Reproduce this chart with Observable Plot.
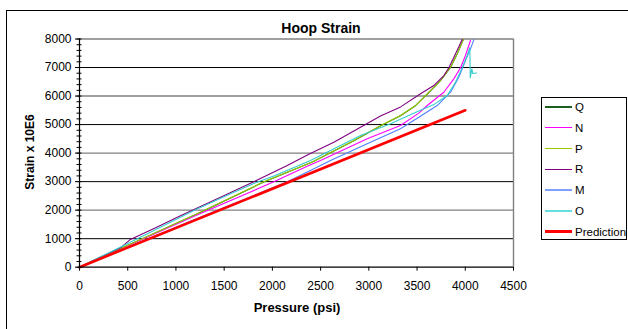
<!DOCTYPE html>
<html>
<head>
<meta charset="utf-8">
<script src="https://cdn.jsdelivr.net/npm/d3@7"></script>
<script src="https://cdn.jsdelivr.net/npm/@observablehq/plot@0.6"></script>
<style>
  html, body { margin: 0; padding: 0; background: #fff; }
  body { width: 628px; height: 329px; overflow: hidden; position: relative; font-family: "Liberation Sans", Arial, sans-serif; }
  #frame { position: absolute; left: 6px; top: 10px; width: 700px; height: 400px; border: 1px solid #000; }
  #chart { position: absolute; left: 0; top: 0; }
  .lbl { position: absolute; font-weight: bold; color: #000; white-space: nowrap; }
  #title { left: 321px; top: 21px; font-size: 14px; line-height: 14px; transform: translateX(-50%); }
  #xlab { left: 297px; top: 301px; font-size: 13px; line-height: 13px; transform: translateX(-50%); }
  #ylab { left: 30px; top: 152px; font-size: 12px; line-height: 12px; transform: translate(-50%, -50%) rotate(-90deg); }
  #legend { position: absolute; left: 541px; top: 97px; width: 86px; height: 143px; border: 1px solid #000; box-sizing: border-box; background: #fff; }
  .item { position: absolute; left: 3px; height: 14px; font-size: 11.5px; line-height: 14px; white-space: nowrap; }
  .sw { position: absolute; left: 0; width: 27px; }
  .item span { position: absolute; left: 30px; top: 0; }
</style>
</head>
<body>
<div id="frame"></div>
<div id="chart"></div>
<div id="title" class="lbl">Hoop Strain</div>
<div id="xlab" class="lbl">Pressure (psi)</div>
<div id="ylab" class="lbl">Strain x 10E6</div>
<div id="legend"></div>
<script>
// ---- data (pressure psi, strain x 10E6) ----
const pressureTicks = [0, 500, 1000, 1500, 2000, 2500, 3000, 3500, 4000, 4500];
const strainTicks = [0, 1000, 2000, 3000, 4000, 5000, 6000, 7000, 8000];
const seriesNames = ["Q", "N", "P", "R", "M", "O", "Prediction"];
const seriesColors = ["#1E5E1E", "#FF00FF", "#99CC00", "#800080", "#4F7FFF", "#33CCCC", "#FF0000"];

const Q = [[0,0],[300,466],[600,915],[1255,1922],[1911,2986],[2420,3694],[2845,4434],[3139,4985],[3328,5310],[3484,5661],[3640,6186],[3743,6537],[3847,7003],[3916,7473],[3980,7980]];
const N = [[0,0],[300,450],[600,900],[1200,1800],[2015,2993],[2378,3565],[2499,3740],[2983,4500],[3328,4967],[3518,5400],[3605,5668],[3778,6134],[3881,6603],[3951,6990],[4002,7420],[4054,7946]];
const P = [[0,0],[300,470],[600,920],[1255,1928],[1911,2993],[2420,3700],[2845,4441],[3139,4991],[3328,5317],[3484,5668],[3640,6193],[3743,6544],[3847,7010],[3916,7480],[3979,7980]];
const R = [[0,0],[200,330],[425,680],[522,960],[800,1400],[1047,1800],[1462,2454],[1807,2993],[2154,3565],[2378,3960],[2637,4381],[2983,5040],[3121,5300],[3330,5620],[3536,6080],[3674,6369],[3778,6719],[3830,6990],[3899,7480],[3968,7980]];
const M = [[0,0],[300,420],[600,840],[1200,1680],[2154,2993],[2378,3365],[2603,3740],[2983,4325],[3328,4851],[3518,5258],[3709,5668],[3847,6134],[3933,6660],[4002,7245],[4054,7655],[4089,7980]];
const O = [[0,0],[300,500],[600,1000],[1185,1987],[1566,2573],[1825,2960],[2015,3200],[2395,3740],[2914,4616],[3225,5026],[3500,5450],[3674,5700],[3813,6018],[3899,6485],[3968,6990],[4020,7420],[4047,7700],[4052,6640],[4068,6950],[4078,6790],[4117,6810]];
const Prediction = [[0,0],[4000,5500]];

const seriesData = {Q, N, P, R, M, O, Prediction};
const rows = [];
for (const name of seriesNames) {
  for (const [pressure, strain] of seriesData[name]) rows.push({series: name, pressure, strain});
}
const measured = rows.filter(d => d.series !== "Prediction");
const predicted = rows.filter(d => d.series === "Prediction");

const minorStrain = d3.range(0, 8001, 200);
const gridBlack = strainTicks.filter(v => v > 0 && (v / 1000) % 2 === 1);
const gridGray = strainTicks.filter(v => v > 0 && (v / 1000) % 2 === 0);

const chart = Plot.plot({
  width: 628,
  height: 329,
  marginLeft: 79,
  marginRight: 115,
  marginTop: 38.5,
  marginBottom: 62.3,
  style: {fontFamily: '"Liberation Sans", Arial, sans-serif', fontSize: "12px", color: "#000", background: "transparent", overflow: "visible"},
  x: {domain: [0, 4500], label: null},
  y: {domain: [0, 8000], label: null},
  color: {domain: seriesNames, range: seriesColors},
  marks: [
    Plot.ruleY(gridGray, {stroke: "#808080", strokeWidth: 1.4}),
    Plot.ruleY(gridBlack, {stroke: "#000", strokeWidth: 1}),
    Plot.ruleX([4500], {stroke: "#808080", strokeWidth: 1.4}),
    Plot.line(measured, {x: "pressure", y: "strain", z: "series", stroke: "series", strokeWidth: 1.1}),
    Plot.line(predicted, {x: "pressure", y: "strain", stroke: "series", strokeWidth: 2.6}),
    Plot.ruleX([0], {stroke: "#000", strokeWidth: 1.2}),
    Plot.ruleY([0], {stroke: "#000", strokeWidth: 1.2}),
    Plot.axisY({ticks: minorStrain, tickSize: 5, dx: 2.5, tickFormat: () => "", label: null}),
    Plot.axisY({ticks: strainTicks, tickSize: 4, tickPadding: 4, tickFormat: d => String(d), label: null, fontSize: 12}),
    Plot.axisX({ticks: pressureTicks, tickSize: 4, tickPadding: 10, tickFormat: d => String(d), label: null, fontSize: 12})
  ]
});
document.getElementById("chart").appendChild(chart);

// ---- legend ----
const legend = document.getElementById("legend");
const widths = [1.2, 1.2, 1.2, 1.2, 2.2, 2.2, 3];
const legendColors = ["#1E5E1E", "#FF00FF", "#99CC00", "#800080", "#7FA0FF", "#66DDDD", "#FF0000"];
seriesNames.forEach((name, i) => {
  const item = document.createElement("div");
  item.className = "item";
  item.style.top = (2 + i * 20.8) + "px";
  const sw = document.createElement("div");
  sw.className = "sw";
  sw.style.top = (7 - widths[i] / 2) + "px";
  sw.style.height = widths[i] + "px";
  sw.style.background = legendColors[i];
  const t = document.createElement("span");
  t.textContent = name;
  item.appendChild(sw);
  item.appendChild(t);
  legend.appendChild(item);
});
</script>
</body>
</html>
